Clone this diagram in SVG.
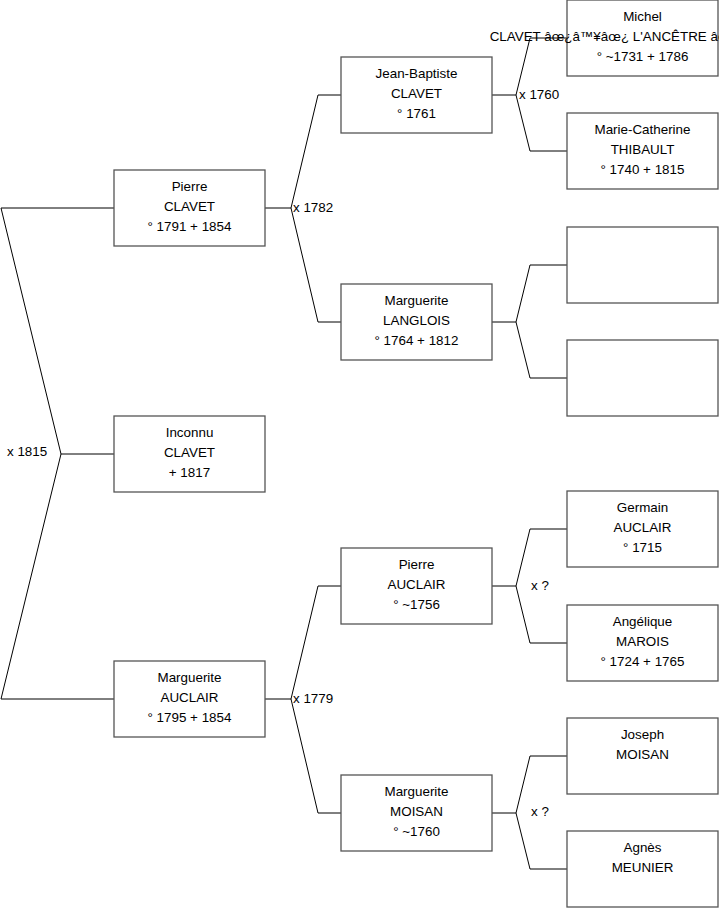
<svg xmlns="http://www.w3.org/2000/svg" width="719" height="908" viewBox="0 0 719 908">
<style>
.box{fill:#fff;stroke:#555;stroke-width:1.3}
.t{font-family:"Liberation Sans",Arial,sans-serif;font-size:13.4px;fill:#000;text-anchor:middle}
.l{font-family:"Liberation Sans",Arial,sans-serif;font-size:13.4px;fill:#000}
.c{fill:none;stroke:#000;stroke-width:1}
</style>
<rect width="719" height="908" fill="#fff"/>
<g id="connectors">
<polyline class="c" points="114,208 1,208 61,454 1,699 114,699"/>
<line class="c" x1="61" y1="454" x2="114" y2="454"/>
<polyline class="c" points="341,95 318,95 291,208 318,322 341,322"/>
<line class="c" x1="265" y1="208" x2="291" y2="208"/>
<polyline class="c" points="567,38 530,38 516,95 530,151 567,151"/>
<line class="c" x1="492" y1="95" x2="516" y2="95"/>
<polyline class="c" points="567,265 530,265 516,322 530,378 567,378"/>
<line class="c" x1="492" y1="322" x2="516" y2="322"/>
<polyline class="c" points="341,586 318,586 291,699 318,813 341,813"/>
<line class="c" x1="265" y1="699" x2="291" y2="699"/>
<polyline class="c" points="567,529 530,529 516,586 530,643 567,643"/>
<line class="c" x1="492" y1="586" x2="516" y2="586"/>
<polyline class="c" points="567,756 530,756 516,813 530,869 567,869"/>
<line class="c" x1="492" y1="813" x2="516" y2="813"/>
<text class="l" x="7" y="456">x 1815</text>
<text class="l" x="293" y="212">x 1782</text>
<text class="l" x="519" y="99">x 1760</text>
<text class="l" x="293" y="703">x 1779</text>
<text class="l" x="531" y="590">x ?</text>
<text class="l" x="531" y="816">x ?</text>
</g>
<g id="pierre-clavet"><rect class="box" x="114" y="170" width="151" height="76"/>
<text class="t" x="189.5" y="191">Pierre</text><text class="t" x="189.5" y="211">CLAVET</text><text class="t" x="189.5" y="231">° 1791 + 1854</text></g>
<g id="inconnu-clavet"><rect class="box" x="114" y="416" width="151" height="76"/>
<text class="t" x="189.5" y="437">Inconnu</text><text class="t" x="189.5" y="457">CLAVET</text><text class="t" x="189.5" y="477"> + 1817</text></g>
<g id="marguerite-auclair"><rect class="box" x="114" y="661" width="151" height="76"/>
<text class="t" x="189.5" y="682">Marguerite</text><text class="t" x="189.5" y="702">AUCLAIR</text><text class="t" x="189.5" y="722">° 1795 + 1854</text></g>
<g id="jean-baptiste-clavet"><rect class="box" x="341" y="57" width="151" height="76"/>
<text class="t" x="416.5" y="78">Jean-Baptiste</text><text class="t" x="416.5" y="98">CLAVET</text><text class="t" x="416.5" y="118">° 1761</text></g>
<g id="marguerite-langlois"><rect class="box" x="341" y="284" width="151" height="76"/>
<text class="t" x="416.5" y="305">Marguerite</text><text class="t" x="416.5" y="325">LANGLOIS</text><text class="t" x="416.5" y="345">° 1764 + 1812</text></g>
<g id="pierre-auclair"><rect class="box" x="341" y="548" width="151" height="76"/>
<text class="t" x="416.5" y="569">Pierre</text><text class="t" x="416.5" y="589">AUCLAIR</text><text class="t" x="416.5" y="609">° ~1756</text></g>
<g id="marguerite-moisan"><rect class="box" x="341" y="775" width="151" height="76"/>
<text class="t" x="416.5" y="796">Marguerite</text><text class="t" x="416.5" y="816">MOISAN</text><text class="t" x="416.5" y="836">° ~1760</text></g>
<g id="michel-clavet"><rect class="box" x="567" y="0" width="151" height="76"/>
<text class="t" x="642.5" y="21">Michel</text><text class="t" x="642.5" y="41">CLAVET âœ¿â™¥âœ¿ L'ANCÊTRE âœ¿â™¥âœ¿</text><text class="t" x="642.5" y="61">° ~1731 + 1786</text></g>
<g id="marie-catherine-thibault"><rect class="box" x="567" y="113" width="151" height="76"/>
<text class="t" x="642.5" y="134">Marie-Catherine</text><text class="t" x="642.5" y="154">THIBAULT</text><text class="t" x="642.5" y="174">° 1740 + 1815</text></g>
<g id="unknown-1"><rect class="box" x="567" y="227" width="151" height="76"/></g>
<g id="unknown-2"><rect class="box" x="567" y="340" width="151" height="76"/></g>
<g id="germain-auclair"><rect class="box" x="567" y="491" width="151" height="76"/>
<text class="t" x="642.5" y="512">Germain</text><text class="t" x="642.5" y="532">AUCLAIR</text><text class="t" x="642.5" y="552">° 1715</text></g>
<g id="angelique-marois"><rect class="box" x="567" y="605" width="151" height="76"/>
<text class="t" x="642.5" y="626">Angélique</text><text class="t" x="642.5" y="646">MAROIS</text><text class="t" x="642.5" y="666">° 1724 + 1765</text></g>
<g id="joseph-moisan"><rect class="box" x="567" y="718" width="151" height="76"/>
<text class="t" x="642.5" y="739">Joseph</text><text class="t" x="642.5" y="759">MOISAN</text></g>
<g id="agnes-meunier"><rect class="box" x="567" y="831" width="151" height="76"/>
<text class="t" x="642.5" y="852">Agnès</text><text class="t" x="642.5" y="872">MEUNIER</text></g>
</svg>
